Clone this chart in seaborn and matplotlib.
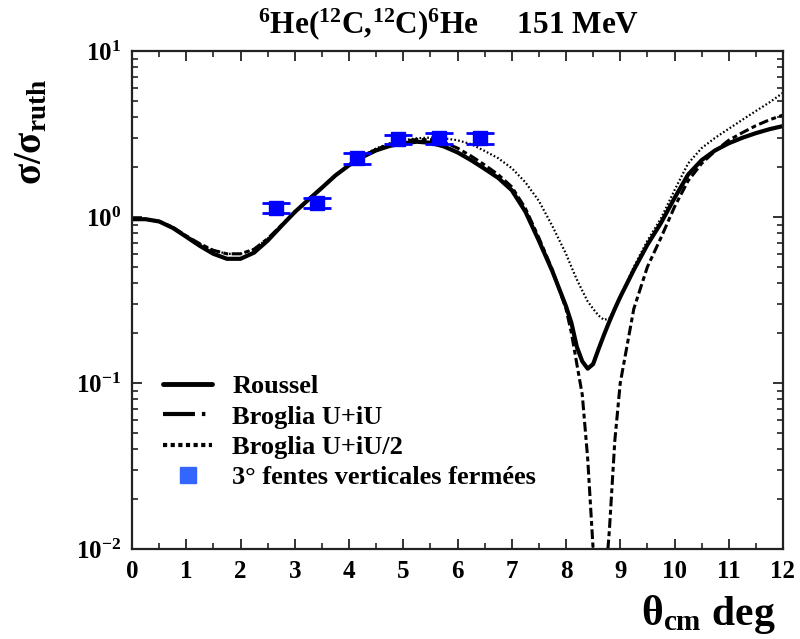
import matplotlib
matplotlib.use('Agg')
import matplotlib.pyplot as plt
from matplotlib.lines import Line2D
from matplotlib.ticker import MultipleLocator, LogLocator, NullFormatter
import seaborn as sns

# angles (deg, c.m.)
theta = [0, 0.25, 0.5, 0.75, 1.0, 1.25, 1.5, 1.75, 2.0, 2.25, 2.5, 2.75,
         3.0, 3.25, 3.5, 3.75, 4.0, 4.25, 4.5, 4.75, 5.0, 5.25, 5.5, 5.75,
         6.0, 6.25, 6.5, 6.75, 7.0, 7.25, 7.5, 7.75, 8.0, 8.1, 8.2, 8.3,
         8.4, 8.5, 8.6, 8.7, 8.8, 8.9, 9.0, 9.25, 9.5, 9.75, 10.0, 10.25,
         10.5, 10.75, 11.0, 11.25, 11.5, 11.75, 12.0]

roussel = [0.97, 0.97, 0.94, 0.86, 0.76, 0.67, 0.60, 0.56, 0.56, 0.61,
           0.72, 0.88, 1.07, 1.27, 1.50, 1.78, 2.05, 2.30, 2.52, 2.68,
           2.78, 2.84, 2.80, 2.66, 2.45, 2.20, 1.95, 1.72, 1.45, 1.08,
           0.72, 0.47, 0.29, 0.23, 0.165, 0.135, 0.122, 0.13, 0.16, 0.195,
           0.235, 0.28, 0.33, 0.48, 0.68, 0.92, 1.30, 1.80, 2.20, 2.52,
           2.78, 3.00, 3.20, 3.38, 3.53]

broglia = [0.97, 0.97, 0.94, 0.87, 0.77, 0.69, 0.63, 0.60, 0.60, 0.64,
           0.74, 0.89, 1.07, 1.27, 1.50, 1.78, 2.05, 2.32, 2.56, 2.74,
           2.86, 2.93, 2.92, 2.82, 2.60, 2.33, 2.06, 1.80, 1.52, 1.13,
           0.75, 0.48, 0.28, 0.20, 0.13, 0.085, 0.035, 0.010, 0.003, 0.005,
           0.013, 0.045, 0.10, 0.28, 0.50, 0.75, 1.15, 1.65, 2.10, 2.50,
           2.90, 3.22, 3.55, 3.85, 4.11]

broglia_half = [0.97, 0.97, 0.94, 0.87, 0.77, 0.69, 0.63, 0.60, 0.60, 0.64,
                0.74, 0.89, 1.07, 1.27, 1.50, 1.78, 2.06, 2.34, 2.59, 2.78,
                2.90, 2.98, 3.01, 2.98, 2.90, 2.75, 2.50, 2.26, 1.97, 1.62,
                1.25, 0.88, 0.60, 0.50, 0.42, 0.36, 0.31, 0.28, 0.255, 0.24,
                0.245, 0.28, 0.33, 0.50, 0.72, 0.98, 1.45, 2.10, 2.60, 3.00,
                3.40, 3.85, 4.35, 4.90, 5.60]

# mesures
exp_theta = [2.65, 3.41, 4.14, 4.90, 5.66, 6.42]
exp_ratio = [1.14, 1.22, 2.26, 2.94, 2.98, 2.98]
exp_err = [0.08, 0.09, 0.16, 0.20, 0.21, 0.21]

labels = ['Roussel', 'Broglia U+iU', 'Broglia U+iU/2',
          '3° fentes verticales fermées']

sns.set_theme(style='ticks')
plt.rcParams['font.family'] = ['Liberation Serif', 'DejaVu Serif']
plt.rcParams['font.weight'] = 'bold'
plt.rcParams['text.color'] = 'black'
plt.rcParams['mathtext.fontset'] = 'custom'
plt.rcParams['mathtext.rm'] = 'Liberation Serif:bold'
plt.rcParams['mathtext.it'] = 'Liberation Serif:italic:bold'
plt.rcParams['mathtext.bf'] = 'Liberation Serif:bold'
plt.rcParams['mathtext.default'] = 'rm'
plt.rcParams['lines.scale_dashes'] = False

fig = plt.figure(figsize=(8, 6.39), dpi=100)
ax = fig.add_axes([132 / 800, 1 - 549 / 639, 651 / 800, 498 / 639])

sns.lineplot(x=theta, y=roussel, ax=ax, color='black', lw=3, sort=False)
sns.lineplot(x=theta, y=broglia, ax=ax, color='black', lw=2.2, sort=False)
ax.lines[-1].set_linestyle((0, (7, 2.5, 3.5, 2.5)))
sns.lineplot(x=theta, y=broglia_half, ax=ax, color='black', lw=1.6, sort=False)
ax.lines[-1].set_linestyle((0, (1.2, 1.6)))

ax.errorbar(exp_theta, exp_ratio, yerr=exp_err, fmt='s', color='blue',
            ms=9.5, capsize=10, capthick=2, elinewidth=2, zorder=5)

ax.set_yscale('log')
ax.set_xlim(0, 12)
ax.set_ylim(1e-2, 1e1)
ax.set_xticks(range(13))
ax.xaxis.set_minor_locator(MultipleLocator(0.5))
ax.set_yticks([1e-2, 1e-1, 1, 10])
ax.set_yticklabels(['10$^{-2}$', '10$^{-1}$', '10$^{0}$', '10$^{1}$'])
ax.yaxis.set_minor_locator(LogLocator(base=10, subs=range(2, 10)))
ax.yaxis.set_minor_formatter(NullFormatter())
ax.tick_params(which='both', direction='in', top=True, right=True,
               colors='#222222', labelcolor='black', labelsize=18, pad=8)
ax.tick_params(which='major', length=7, width=1.3)
ax.tick_params(which='minor', length=4, width=1.2)
for s in ax.spines.values():
    s.set_linewidth(1.6)
    s.set_color('#222222')
ax.set_xlabel('')
ax.set_ylabel('')

handles = [Line2D([], [], color='black', lw=3.5),
           Line2D([], [], color='black', lw=3, linestyle=(0, (23, 5, 2.5, 5))),
           Line2D([], [], color='black', lw=3, linestyle=(0, (3, 2.5))),
           Line2D([], [], marker='s', ms=11, color='#3366ff', linestyle='none')]
ax.legend(handles, labels, loc='upper left', bbox_to_anchor=(0.048, 0.35),
          frameon=False, fontsize=19, handlelength=1.86, handletextpad=0.76,
          labelspacing=0.26, borderpad=0, borderaxespad=0)

fig.text(449 / 800, 1 - 24 / 639,
         '$^{6}$He($^{12}$C,$^{12}$C)$^{6}$He     151 MeV',
         ha='center', va='center', fontsize=22.5, fontweight='bold')
fig.text(32 / 800, 1 - 132 / 639, 'σ/σ$_{ruth}$', rotation=90,
         ha='center', va='center', fontsize=28, fontweight='bold')
fig.text(776 / 800, 1 - 615 / 639, 'θ$_{cm}$ deg', ha='right', va='center',
         fontsize=30, fontweight='bold')

fig.savefig('out.png', dpi=100)
